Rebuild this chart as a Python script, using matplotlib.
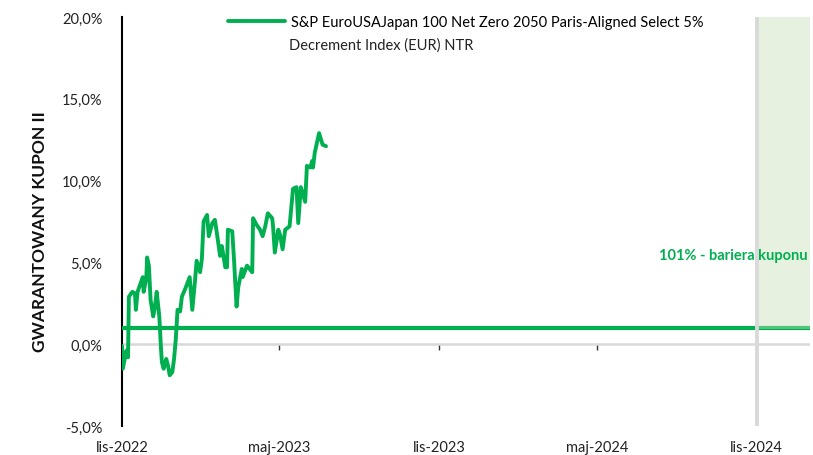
import matplotlib
matplotlib.use("Agg")
import matplotlib.pyplot as plt
import matplotlib.dates as mdates
import pandas as pd

# Index performance (return since start, %)
dates = [
    "2022-11-01", "2022-11-02", "2022-11-06", "2022-11-08", "2022-11-09", "2022-11-13",
    "2022-11-16", "2022-11-17", "2022-11-19", "2022-11-23", "2022-11-25", "2022-11-26",
    "2022-11-29", "2022-11-30", "2022-12-02", "2022-12-04", "2022-12-07", "2022-12-09",
    "2022-12-11", "2022-12-14", "2022-12-16", "2022-12-17", "2022-12-19", "2022-12-22",
    "2022-12-24", "2022-12-26", "2022-12-29", "2022-12-31", "2023-01-02", "2023-01-04",
    "2023-01-07", "2023-01-09", "2023-01-13", "2023-01-18", "2023-01-21", "2023-01-24",
    "2023-01-26", "2023-01-30", "2023-02-01", "2023-02-03", "2023-02-07", "2023-02-09",
    "2023-02-13", "2023-02-16", "2023-02-18", "2023-02-22", "2023-02-24", "2023-02-28",
    "2023-03-02", "2023-03-03", "2023-03-08", "2023-03-10", "2023-03-13", "2023-03-15",
    "2023-03-19", "2023-03-20", "2023-03-25", "2023-03-28", "2023-03-31", "2023-04-01",
    "2023-04-05", "2023-04-09", "2023-04-12", "2023-04-15", "2023-04-18", "2023-04-23",
    "2023-04-24", "2023-04-26", "2023-04-30", "2023-05-02", "2023-05-05", "2023-05-08",
    "2023-05-13", "2023-05-17", "2023-05-21", "2023-05-23", "2023-05-26", "2023-05-31",
    "2023-06-02", "2023-06-06", "2023-06-08", "2023-06-09", "2023-06-11", "2023-06-16",
    "2023-06-20", "2023-06-24",
]
values = [
    -0.1, -1.5, -0.4, -0.8, 2.9, 3.2,
    3.1, 2.1, 3.2, 3.8, 4.1, 3.2,
    4.0, 5.3, 4.8, 2.7, 1.7, 2.3,
    3.2, 1.7, -0.3, -1.1, -1.5, -0.9,
    -1.3, -1.9, -1.7, -0.9, 0.3, 2.1,
    2.0, 2.9, 3.4, 4.1, 2.1, 3.8,
    5.1, 4.4, 5.2, 7.5, 7.9, 6.6,
    7.4, 7.6, 6.9, 5.4, 6.0, 4.7,
    4.7, 7.0, 6.9, 5.2, 2.3, 3.5,
    4.6, 4.1, 4.8, 4.6, 4.4, 7.7,
    7.3, 7.0, 6.6, 7.2, 8.0, 7.7,
    7.2, 5.6, 7.0, 6.7, 5.8, 7.0,
    7.2, 9.5, 9.6, 7.4, 9.6, 8.7,
    10.9, 10.8, 11.2, 10.8, 11.7, 12.9,
    12.2, 12.1,
]

series_label = "S&P EuroUSAJapan 100 Net Zero 2050 Paris-Aligned Select 5%"
series_label_2 = "Decrement Index (EUR) NTR"
barrier_level = 1.0
barrier_label = "101% - bariera kuponu"
y_title = "GWARANTOWANY KUPON II"
x_start, x_end = "2022-11-01", "2025-01-01"
observation_date = "2024-11-01"
tick_dates = ["2022-11-01", "2023-05-01", "2023-11-01", "2024-05-01", "2024-11-01"]
tick_labels = ["lis-2022", "maj-2023", "lis-2023", "maj-2024", "lis-2024"]
y_ticks = [-5, 0, 5, 10, 15, 20]

GREEN = "#00b050"
FONT = "Lato"

plt.rcParams["font.family"] = [FONT, "DejaVu Sans"]

fig = plt.figure(figsize=(8.13, 4.56), dpi=100)
ax = fig.add_axes([0.150, 0.0636, 0.846, 0.897])

x = pd.to_datetime(dates)
x0, x1 = pd.Timestamp(x_start), pd.Timestamp(x_end)
obs = pd.Timestamp(observation_date)

# coupon barrier
ax.plot([x0, x1], [barrier_level, barrier_level], color=GREEN, lw=3.0,
        solid_capstyle="butt", zorder=3)

# observation window shading
ax.fill_between([obs, x1], barrier_level - 0.1, 20, color="#c5e0b3", alpha=0.42,
                lw=0, zorder=4)
ax.axvline(obs, color="#d9d9d9", lw=2.8, zorder=5)

# zero line
ax.axhline(0, color="#d9d9d9", lw=1.8, zorder=2)

# index line
line, = ax.plot(x, values, color=GREEN, lw=2.8, solid_joinstyle="round",
                solid_capstyle="round", zorder=6)

ax.set_xlim(x0, x1)
ax.set_ylim(-5, 20)

for s in ["top", "right"]:
    ax.spines[s].set_visible(False)
ax.spines["left"].set_color("black")
ax.spines["left"].set_linewidth(1.5)
ax.spines["bottom"].set_position(("data", 0))
ax.spines["bottom"].set_visible(False)

ax.set_yticks(y_ticks)
ax.set_yticklabels([f"{v:.1f}%".replace(".", ",") for v in y_ticks], fontsize=10.5,
                   color="#222222")
ax.tick_params(axis="y", length=0, pad=14)

tick_x = pd.to_datetime(tick_dates)
ax.set_xticks(tick_x)
ax.tick_params(axis="x", direction="out", length=4, width=1, color="#333333",
               labelbottom=False)

sec = ax.secondary_xaxis(0.0)
sec.set_xticks(tick_x)
sec.set_xticklabels(tick_labels, fontsize=10.5, color="#222222")
sec.tick_params(length=0, pad=10)
sec.spines["bottom"].set_visible(False)

ax.text(0.997, 0.417, barrier_label, transform=ax.transAxes, ha="right",
        va="center", color=GREEN, fontsize=10.5, fontweight="bold", zorder=7)

leg = ax.legend([line], [series_label], loc="upper left",
                bbox_to_anchor=(228 / 813, 1 - 16 / 456), bbox_transform=fig.transFigure,
                frameon=False, fontsize=10.5, handlelength=3.9, handletextpad=0.4,
                borderpad=0, borderaxespad=0)
fig.text(289 / 813, 1 - 46 / 456, series_label_2, fontsize=10.5, va="center",
         ha="left", color="#222222")

fig.text(40 / 813, 1 - 232 / 456, y_title, rotation=90, ha="center", va="center",
         fontsize=12.5, fontweight="bold", color="#111111")

fig.savefig("out.png", dpi=100)
